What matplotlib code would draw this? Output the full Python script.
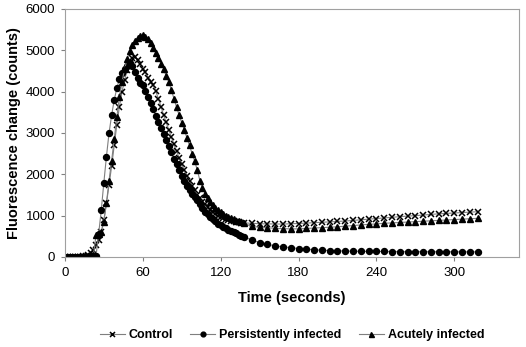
import numpy as np
import matplotlib
matplotlib.use("Agg")
import matplotlib.pyplot as plt

plt.rcParams['font.family'] = ['Liberation Sans', 'DejaVu Sans']

# sample times (s): dense phase every 2 s, then every 6 s
t_dense = list(range(0, 140, 2))
t_sparse = list(range(144, 319, 6))
time = t_dense + t_sparse

control = [
    0, 10, 0, 5, 0, 10, 0, 15, 20, 40,
    100, 180, 280, 400, 600, 900, 1300, 1740, 2200, 2700,
    3200, 3640, 4000, 4280, 4520, 4700, 4810, 4840, 4760, 4660,
    4560, 4470, 4340, 4240, 4170, 4010, 3830, 3640, 3440, 3260,
    3080, 2900, 2730, 2560, 2400, 2250, 2100, 1970, 1840, 1720,
    1610, 1510, 1420, 1340, 1270, 1200, 1140, 1090, 1040, 1000,
    970, 940, 915, 895, 875, 860, 850, 840, 830, 825,
    815, 805, 800, 800, 795, 805, 810, 820, 830, 840,
    850, 860, 870, 885, 900, 915, 930, 945, 960, 975,
    990, 1000, 1015, 1030, 1045, 1055, 1065, 1075, 1085, 1095,
]

persistent = [
    0, 0, 10, 0, 0, 5, 0, 0, 10, 0,
    0, 20, 30, 560, 1130, 1800, 2430, 3000, 3430, 3800,
    4080, 4300, 4450, 4540, 4620, 4690, 4620, 4480, 4320, 4200,
    4150, 4020, 3880, 3720, 3580, 3420, 3260, 3120, 2970, 2820,
    2680, 2530, 2380, 2240, 2100, 1950, 1830, 1720, 1620, 1530,
    1450, 1370, 1270, 1180, 1100, 1030, 970, 910, 860, 810,
    770, 730, 700, 665, 630, 600, 570, 540, 515, 490,
    410, 350, 305, 270, 245, 225, 205, 190, 175, 165,
    155, 150, 145, 140, 138, 135, 135, 133, 132, 130,
    130, 130, 128, 128, 127, 127, 126, 126, 125, 125,
]

acute = [
    0, 5, 0, 0, 10, 0, 0, 0, 5, 0,
    0, 50, 530, 560, 600, 850, 1300, 1850, 2330, 2850,
    3380, 3880, 4240, 4550, 4800, 4990, 5120, 5220, 5300, 5350,
    5360, 5330, 5270, 5180, 5060, 4940, 4810, 4680, 4560, 4380,
    4240, 4050, 3830, 3630, 3430, 3250, 3080, 2880, 2700, 2500,
    2320, 2100, 1850, 1680, 1530, 1420, 1330, 1250, 1190, 1130,
    1080, 1040, 1000, 970, 940, 910, 880, 860, 840, 820,
    740, 720, 705, 695, 685, 680, 680, 690, 700, 710,
    720, 730, 745, 760, 775, 790, 800, 815, 825, 835,
    845, 855, 865, 875, 885, 895, 905, 915, 925, 935,
]

x_ticks = [0, 60, 120, 180, 240, 300]
y_ticks = [0, 1000, 2000, 3000, 4000, 5000, 6000]

fig = plt.figure(figsize=(5.26, 3.47), dpi=100)
ax = fig.add_axes([0.1234, 0.2594, 0.8636, 0.7147])

line_kw = dict(color='#7f7f7f', linewidth=0.8)
ax.plot(time, control, marker='x', markersize=4.5, markeredgewidth=1.1,
        markeredgecolor='black', label='Control', **line_kw)
ax.plot(time, persistent, marker='o', markersize=4.3, markerfacecolor='black',
        markeredgecolor='black', label='Persistently infected', **line_kw)
ax.plot(time, acute, marker='^', markersize=4.5, markerfacecolor='black',
        markeredgecolor='black', label='Acutely infected', **line_kw)

ax.set_xlim(0, 350)
ax.set_ylim(0, 6000)
ax.set_xticks(x_ticks)
ax.set_yticks(y_ticks)
ax.tick_params(direction='out', length=3, width=0.8, color='#808080',
               labelsize=9.5, pad=4)
for s in ax.spines.values():
    s.set_color('#a0a0a0')
    s.set_linewidth(0.8)

ax.set_xlabel('Time (seconds)', fontsize=10.5, fontweight='bold', labelpad=9)
ax.set_ylabel('Fluorescence change (counts)', fontsize=10.5, fontweight='bold',
              labelpad=3)

fig.legend(loc='lower center', bbox_to_anchor=(0.555, -0.015), ncol=3,
           frameon=False, prop={'size': 9, 'weight': 'bold'},
           handlelength=2.0, handletextpad=0.3, columnspacing=1.4,
           markerscale=0.8)

fig.savefig('out.png', dpi=100)
